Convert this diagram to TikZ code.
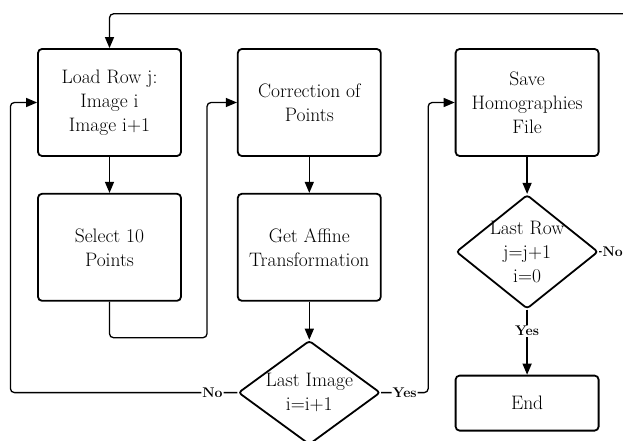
\documentclass[tikz,border=0pt]{standalone}
\usepackage{fontspec}
\usepackage{tikz}
\usetikzlibrary{shapes,arrows.meta,positioning}

\begin{document}
\begin{tikzpicture}[
    x=1pt, y=-1pt,
    node distance=36pt,
    box/.style={rectangle, draw, line width=1.8pt, rounded corners=4pt, minimum width=143pt, minimum height=107pt, align=center, font=\fontsize{19.5}{24}\selectfont},
    decision/.style={diamond, draw, line width=1.8pt, rounded corners=3pt, aspect=1.3, inner sep=-12pt, minimum width=142pt, align=center, font=\fontsize{19.5}{24}\selectfont},
    lbl/.style={fill=white, inner sep=1pt, font=\fontsize{14}{16}\selectfont\bfseries},
    arrow/.style={-{Triangle[length=11pt,width=9pt]}, line width=1.3pt, rounded corners=4pt}
]
\useasboundingbox (0,0) rectangle (623,441);

\node[box] (load) at (109.5,102.5) {Load Row j:\\Image i\\Image i+1};
\node[box, below=of load] (select) {Select 10\\Points};
\node[box, right=55pt of load] (corr) {Correction of\\Points};
\node[box, below=of corr] (affine) {Get Affine\\Transformation};
\node[box, right=73pt of corr] (save) {Save\\Homographies\\File};
\node[decision, minimum height=104pt, below=38pt of affine] (lastimg) {Last Image\\i=i+1};
\node[decision, minimum height=114pt, below=37pt of save] (lastrow) {Last Row\\j=j+1\\i=0};
\node[box, minimum height=55pt, below=65pt of lastrow] (end) {End};

\draw[arrow] (load) -- (select);
\draw[arrow] (select.south) -- ++(0,36) -- ++(97.5,0) |- (corr.west);
\draw[arrow] (corr) -- (affine);
\draw[arrow] (affine) -- (lastimg);
\draw[arrow] (lastimg.west) -- node[lbl, pos=0.11] {No} ++(-227,0) |- (load.west);
\draw[arrow] (lastimg.east) -- node[lbl, pos=0.5] {Yes} ++(47,0) |- (save.west);
\draw[arrow] (save) -- (lastrow);
\draw[arrow] (lastrow.south) -- node[lbl, pos=0.33] {Yes} (end.north);
\draw[arrow] (lastrow.east) -- node[lbl, pos=0.4] {No} ++(34,0) -- ++(0,-238) -| (load.north);
\end{tikzpicture}
\end{document}
